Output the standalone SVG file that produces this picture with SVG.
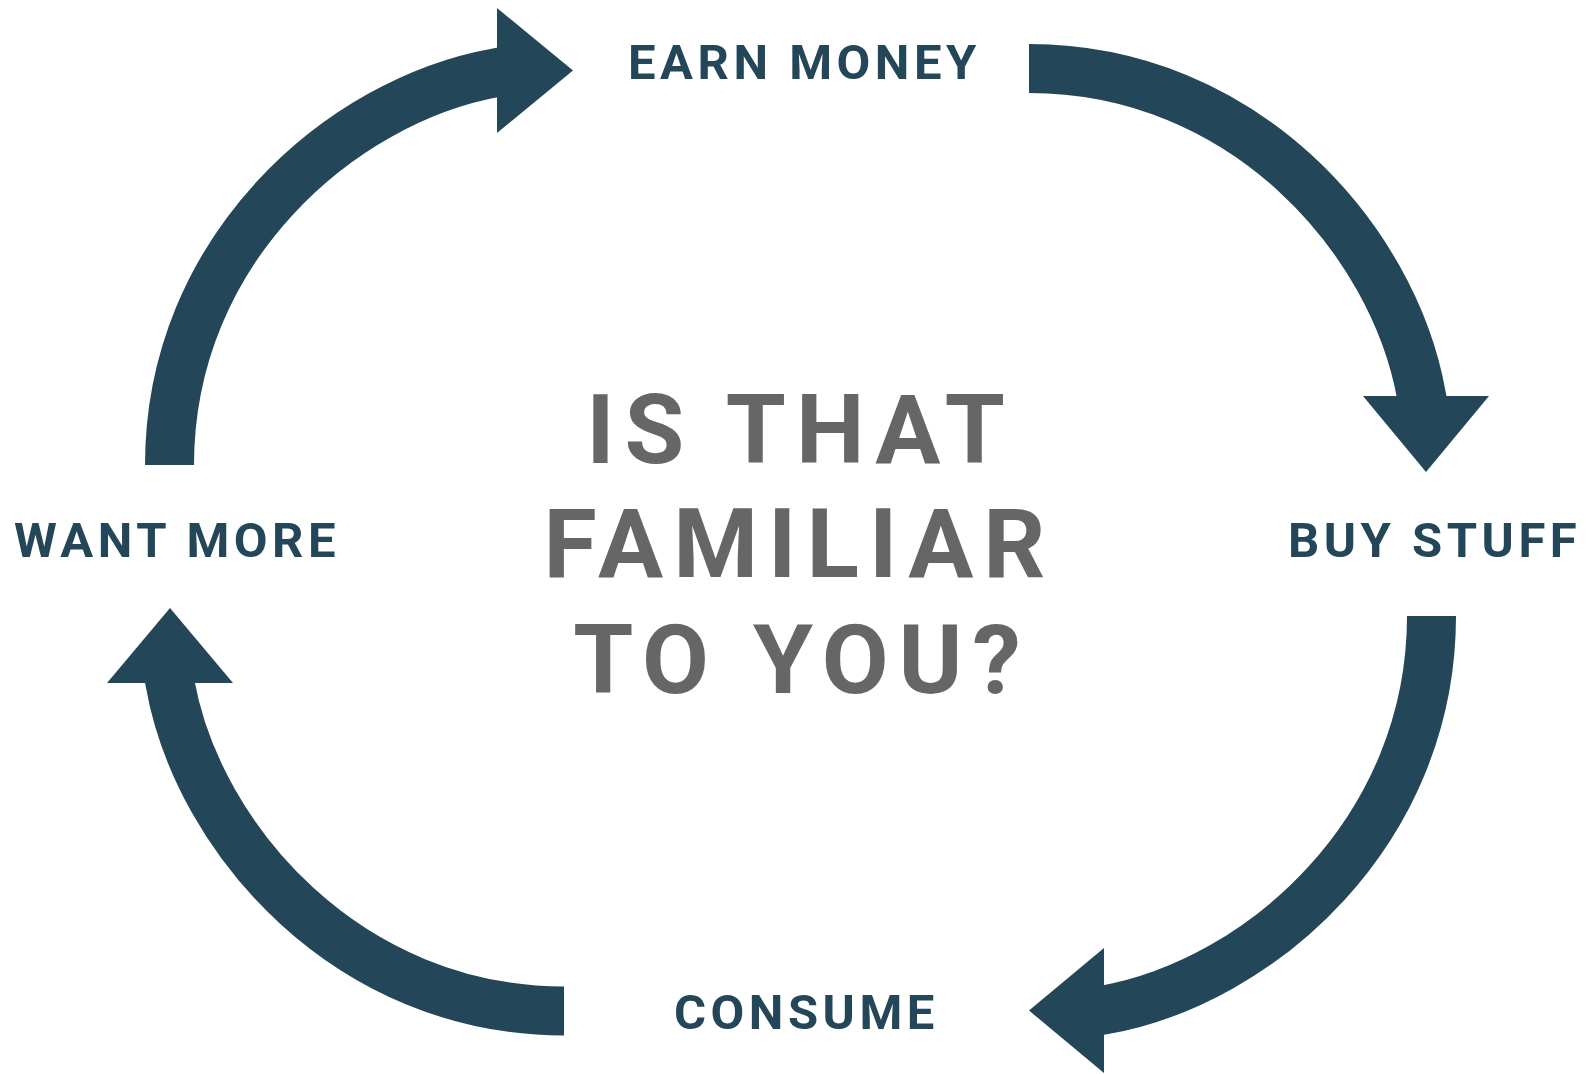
<svg xmlns="http://www.w3.org/2000/svg" width="1586" height="1074" viewBox="0 0 1586 1074">
<style>
.shaft{fill:none;stroke:#234658;stroke-width:49;stroke-linecap:butt}
.head{fill:#234658}
.lbl{font-family:Roboto,"Liberation Sans",sans-serif;font-weight:700;font-size:49px;fill:#234658;letter-spacing:4.5px}
.q{font-family:Roboto,"Liberation Sans",sans-serif;font-weight:700;font-size:97px;fill:#666666;letter-spacing:10px;text-anchor:middle}
</style>
<rect width="1586" height="1074" fill="#ffffff"/>
<g id="connectors">
<path class="shaft" d="M169.5,465 C169.5,250 340,100.5 497,72.5 L516.7,69"/>
<polygon class="head" points="497,8 573,70.5 497,133"/>
<path class="shaft" d="M1029,68.5 C1244,68.5 1393.5,239 1421.5,396 L1425,415.7"/>
<polygon class="head" points="1363,396 1489,396 1426,472"/>
<path class="shaft" d="M1431.5,616 C1431.5,831 1261,982 1104,1010 L1084.3,1013.5"/>
<polygon class="head" points="1104,948 1104,1073 1029,1010.5"/>
<path class="shaft" d="M564,1011 C349,1011 198,840 170,683 L166.5,663.3"/>
<polygon class="head" points="107,683 233,683 170,608"/>
</g>
<g id="earn-money"><text class="lbl" x="628" y="79.3">EARN MONEY</text></g>
<g id="buy-stuff"><text class="lbl" x="1288" y="557">BUY STUFF</text></g>
<g id="consume"><text class="lbl" x="674" y="1029.3">CONSUME</text></g>
<g id="want-more"><text class="lbl" x="14" y="557">WANT MORE</text></g>
<g id="question">
<text class="q" x="800.5" y="462.7">IS THAT</text>
<text class="q" x="799.5" y="576.7">FAMILIAR</text>
<text class="q" x="802" y="692.7">TO YOU?</text>
</g>
</svg>
